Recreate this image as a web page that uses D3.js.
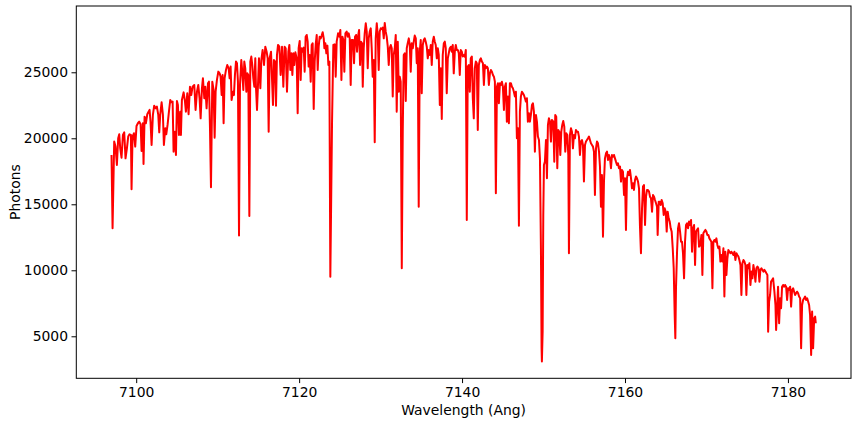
<!DOCTYPE html>
<html><head><meta charset="utf-8">
<script src="https://cdn.jsdelivr.net/npm/d3@7"></script>
<style>body{margin:0;background:#fff}</style>
</head><body><svg id="c" width="856" height="424"></svg>
<script>
const xTicks = [7100, 7120, 7140, 7160, 7180];
const yTicks = [5000, 10000, 15000, 20000, 25000];
const xLabel = "Wavelength (Ang)";
const yLabel = "Photons";
// [wavelength (Ang), photons]
const spectrum = [
[7096.97,18740],[7097.10,13180],[7097.30,19750],[7097.46,19370],[7097.63,17980],[7097.79,20000],[7097.92,20300],[7098.04,19240],[7098.20,18530],[7098.37,20250],
[7098.53,20450],[7098.69,18480],[7098.86,19240],[7099.02,20130],[7099.18,20300],[7099.35,20250],[7099.43,16140],[7099.55,20130],[7099.72,20380],[7099.88,19370],
[7100.04,20930],[7100.21,21140],[7100.37,21260],[7100.54,21060],[7100.66,19040],[7100.82,21140],[7100.90,18050],[7101.03,21640],[7101.19,21140],[7101.36,21820],
[7101.52,22020],[7101.64,22150],[7101.76,21260],[7101.89,19490],[7102.05,21770],[7102.21,22470],[7102.38,22270],[7102.54,22400],[7102.71,21770],[7102.83,20450],
[7102.95,21820],[7103.12,22730],[7103.28,21770],[7103.40,19490],[7103.57,20760],[7103.69,20300],[7103.85,21010],[7104.02,22020],[7104.18,22900],[7104.34,22730],
[7104.47,22780],[7104.59,18990],[7104.75,20500],[7104.88,18740],[7105.00,22830],[7105.12,22520],[7105.25,20250],[7105.41,22020],[7105.49,20250],
[7105.61,22900],[7105.82,23480],[7105.98,22830],[7106.10,22020],[7106.27,23410],[7106.43,21820],[7106.60,23910],[7106.76,23280],[7106.92,23910],[7107.13,24040],
[7107.29,22150],[7107.46,23530],[7107.62,24040],[7107.78,23030],[7107.91,21510],[7108.07,23790],[7108.19,24540],[7108.36,23030],[7108.48,23910],[7108.64,22270],
[7108.81,24170],[7108.93,24290],[7109.05,21010],[7109.18,16290],[7109.34,24290],[7109.50,23660],[7109.63,20050],[7109.75,23530],[7109.91,24420],[7110.08,25050],
[7110.24,24920],[7110.36,24670],[7110.49,23280],[7110.61,24800],[7110.73,21140],[7110.85,24540],[7111.02,25180],[7111.18,25550],[7111.35,25300],[7111.47,24540],
[7111.59,25430],[7111.71,22900],[7111.88,23530],[7112.00,23280],[7112.12,24800],[7112.25,25810],[7112.37,25680],[7112.49,24290],[7112.62,12630],[7112.74,24040],
[7112.90,25930],[7113.02,25050],[7113.15,23660],[7113.27,25810],[7113.39,25300],[7113.52,23530],[7113.64,24920],[7113.76,24800],[7113.89,14120],[7114.01,25810],
[7114.13,26190],[7114.25,25550],[7114.38,24540],[7114.50,23910],[7114.62,26060],
[7114.70,23910],[7114.83,22150],[7114.95,24040],[7115.07,26060],[7115.24,23790],[7115.36,25930],[7115.52,26690],[7115.69,25550],[7115.85,26940],[7116.01,26560],
[7116.14,26060],[7116.26,20500],[7116.38,26060],[7116.55,26560],[7116.67,24540],[7116.79,22520],[7116.91,25930],[7117.04,25810],[7117.16,22470],[7117.28,26310],
[7117.41,27070],[7117.57,26940],[7117.73,24800],[7117.90,26940],[7118.06,23910],[7118.22,26940],[7118.35,26820],[7118.51,23530],[7118.68,26560],[7118.80,27070],
[7118.92,25180],[7119.04,26440],[7119.17,24800],[7119.29,26440],[7119.41,25550],[7119.54,26510],[7119.70,26060],[7119.82,21890],[7119.94,26820],[7120.07,27370],
[7120.19,24420],[7120.31,26820],[7120.44,26560],[7120.56,26870],[7120.68,25050],[7120.80,27700],[7120.93,27830],[7121.05,27320],[7121.17,25430],[7121.30,26310],
[7121.42,24290],[7121.54,27070],[7121.66,27200],[7121.79,22220],[7121.91,25810],[7122.03,27070],[7122.16,27830],[7122.28,25180],[7122.40,26940],[7122.52,27700],
[7122.65,27570],[7122.77,27780],[7122.89,28030],[7123.02,27570],[7123.10,26820],[7123.22,27200],[7123.34,26440],[7123.47,27020],[7123.59,25550],[7123.71,25810],
[7123.83,9520],
[7124.04,21260],[7124.20,27070],[7124.37,27120],[7124.49,24670],[7124.61,27320],[7124.78,27950],[7124.94,27700],[7125.06,28210],[7125.19,24420],[7125.31,27700],
[7125.43,27450],[7125.55,25050],[7125.68,27950],[7125.84,28080],[7125.96,27700],[7126.09,27950],[7126.21,27570],[7126.33,24040],[7126.45,27450],[7126.62,27450],
[7126.74,25680],[7126.86,27700],[7126.99,27830],[7127.11,26560],[7127.23,27700],[7127.36,28210],[7127.48,25550],[7127.60,27320],[7127.72,27200],[7127.81,23910],
[7127.93,26820],[7128.05,27950],[7128.18,28710],[7128.30,28080],[7128.42,25300],[7128.54,27570],[7128.67,28080],[7128.79,28330],[7128.91,26820],[7129.03,24670],
[7129.16,25930],[7129.28,19700],[7129.40,27570],[7129.53,28710],[7129.65,27830],[7129.77,25180],[7129.89,28080],[7130.02,28330],[7130.14,28280],[7130.26,28380],
[7130.39,27570],[7130.51,28740],[7130.63,28080],[7130.75,27700],[7130.88,26940],[7131.00,25550],[7131.12,26820],[7131.25,27070],[7131.37,26820],[7131.49,23160],
[7131.61,26310],[7131.74,26820],[7131.86,27830],[7131.98,22020],[7132.11,27320],[7132.23,23530],[7132.35,24670],[7132.47,24290],[7132.60,10150],[7132.72,20500],
[7132.84,26310],[7132.97,26440],
[7133.09,22830],[7133.21,26820],[7133.33,27200],[7133.46,27570],[7133.58,27070],[7133.70,25050],[7133.82,27200],[7133.95,26820],[7134.07,27320],[7134.19,27780],
[7134.32,27570],[7134.44,25680],[7134.56,26820],[7134.68,14820],[7134.81,26560],[7134.93,27450],[7135.05,23410],[7135.18,27070],[7135.30,27450],[7135.42,27570],
[7135.54,27320],[7135.67,26940],[7135.79,26060],[7135.91,26690],[7136.04,26310],[7136.16,27070],[7136.28,25550],[7136.40,27320],[7136.53,27700],[7136.65,27320],
[7136.77,27070],[7136.90,26060],[7137.02,26820],[7137.14,26310],[7137.27,22520],[7137.39,25300],[7137.51,21460],[7137.63,26310],[7137.76,27200],[7137.88,27320],
[7138.00,26820],[7138.12,23410],[7138.25,26060],[7138.37,26440],[7138.49,26820],[7138.62,26940],[7138.74,26560],[7138.86,27070],[7138.98,24920],[7139.11,26560],
[7139.23,27070],[7139.35,26690],[7139.48,26690],[7139.60,26440],[7139.72,24800],[7139.84,26690],[7139.97,26560],[7140.09,26190],[7140.21,26310],[7140.34,26190],
[7140.46,26690],[7140.58,13810],[7140.70,25430],[7140.83,25550],[7140.95,23530],[7141.07,26060],[7141.20,26190],[7141.32,23030],[7141.44,21510],[7141.56,25300],
[7141.69,25810],[7141.81,25680],[7141.93,20630],
[7142.06,25550],[7142.19,25930],[7142.31,26060],[7142.43,25810],[7142.56,25680],[7142.68,24040],[7142.80,25550],[7142.92,25300],[7143.05,25430],[7143.17,25300],
[7143.29,24040],[7143.42,24920],[7143.54,25180],[7143.66,25050],[7143.79,24800],[7143.91,24670],[7144.03,24290],[7144.15,15830],[7144.28,23910],[7144.40,24170],
[7144.52,22650],[7144.65,24170],[7144.77,24040],[7144.89,24290],[7145.01,23910],[7145.14,22150],[7145.26,23910],[7145.38,24170],[7145.50,21260],[7145.63,23160],
[7145.75,21140],[7145.87,24170],[7146.00,24170],[7146.12,23910],[7146.24,23790],[7146.36,23530],[7146.49,23160],[7146.61,23530],[7146.73,20000],[7146.86,20760],
[7146.98,13380],[7147.10,22020],[7147.22,23160],[7147.35,23530],[7147.47,23410],[7147.59,23280],[7147.72,23030],[7147.84,22780],[7147.96,23030],[7148.08,21260],
[7148.21,21890],[7148.33,21260],[7148.45,21770],[7148.58,22520],[7148.70,22650],[7148.82,22020],[7148.94,18990],[7149.07,21770],[7149.19,21260],[7149.31,20130],
[7149.44,19870],[7149.56,18480],[7149.68,11670],[7149.76,4090],[7149.80,3100],[7149.89,5350],[7149.97,14190],[7150.05,17980],[7150.17,18230],[7150.30,19870],
[7150.42,16970],[7150.54,21010],[7150.66,21510],[7150.79,21260],[7150.91,19750],[7151.03,21390],
[7151.20,21260],[7151.32,18230],[7151.44,21770],[7151.56,21640],[7151.69,17730],[7151.81,20630],[7151.93,20500],[7152.06,18740],[7152.18,20500],[7152.30,21010],
[7152.42,21310],[7152.55,20880],[7152.67,18990],[7152.79,20380],[7152.92,20250],[7153.04,18740],[7153.12,11290],[7153.24,20250],[7153.37,20760],[7153.49,20500],
[7153.61,19240],[7153.73,20250],[7153.86,20000],[7153.98,20630],[7154.10,20500],[7154.23,20500],[7154.35,20130],[7154.47,18740],[7154.59,19750],[7154.72,19870],
[7154.84,19490],[7154.96,16720],[7155.09,19490],[7155.21,19750],[7155.33,19870],[7155.46,20000],[7155.58,20130],[7155.70,19870],[7155.82,19620],[7155.95,19490],
[7156.07,19370],[7156.19,18990],[7156.31,15710],[7156.44,19240],[7156.56,19750],[7156.68,19620],[7156.81,18990],[7156.93,17850],[7157.05,14820],[7157.17,17220],
[7157.30,12550],[7157.42,16720],[7157.54,18480],[7157.67,18860],[7157.79,18990],[7157.91,18360],[7158.03,18740],[7158.16,18480],[7158.28,17730],[7158.40,18740],
[7158.53,18610],[7158.65,18740],[7158.77,18480],[7158.89,18230],[7159.02,17980],[7159.14,18100],[7159.26,17730],[7159.39,17850],[7159.51,16720],[7159.63,17600],
[7159.75,17470],[7159.88,15710],[7160.00,16970],[7160.12,13060],
[7160.24,16970],[7160.37,17470],[7160.49,17220],[7160.61,17600],[7160.74,16970],[7160.86,16210],[7160.98,16590],[7161.10,16090],[7161.23,16840],[7161.35,17100],
[7161.47,16970],[7161.60,16720],[7161.72,16210],[7161.84,13310],[7161.96,11290],[7162.09,14700],[7162.21,16340],[7162.33,16460],[7162.46,13430],[7162.58,15580],
[7162.70,16090],[7162.82,16090],[7162.95,15960],[7163.07,15580],[7163.19,15450],[7163.32,14440],[7163.44,15710],[7163.56,15580],[7163.68,15330],[7163.81,15080],
[7163.93,14820],[7164.01,12680],[7164.14,15200],[7164.26,15200],[7164.38,14950],[7164.50,15330],[7164.63,15080],[7164.75,14190],[7164.87,14700],[7165.00,14440],
[7165.12,12930],[7165.24,14440],[7165.36,13940],[7165.49,13690],[7165.61,13180],[7165.73,12930],[7165.86,11670],[7165.98,10150],[7166.10,6620],[7166.18,4850],
[7166.26,8640],[7166.39,11410],[7166.51,13180],[7166.63,13560],[7166.76,12930],[7166.88,12170],[7167.00,12170],[7167.12,11290],[7167.25,9390],[7167.37,12170],
[7167.49,13430],[7167.62,13560],[7167.74,13180],[7167.86,13690],[7167.98,13430],[7168.11,13810],[7168.23,11410],[7168.35,13180],[7168.48,13430],[7168.60,10400],
[7168.72,12930],[7168.84,13060],[7168.97,13180],[7169.09,11790],
[7169.25,11920],[7169.38,12680],[7169.50,9650],[7169.62,12800],[7169.74,12930],[7169.87,13060],[7169.99,12930],[7170.11,12680],[7170.24,12680],[7170.36,12420],
[7170.48,12300],[7170.60,12170],[7170.73,8640],[7170.85,12170],[7170.97,12300],[7171.10,12170],[7171.22,12420],[7171.34,11920],[7171.46,11670],[7171.59,11790],
[7171.71,10660],[7171.83,11160],[7171.96,10660],[7172.08,11670],[7172.20,8010],[7172.32,11410],[7172.45,9650],[7172.57,10910],[7172.69,11540],[7172.82,11410],
[7172.94,11290],[7173.06,11410],[7173.18,11290],[7173.31,11160],[7173.43,11410],[7173.55,10780],[7173.68,11290],[7173.80,11160],[7173.92,11040],[7174.04,10780],
[7174.17,10400],[7174.29,8130],[7174.41,10530],[7174.54,10780],[7174.66,10660],[7174.78,10400],[7174.90,8130],[7175.03,10400],[7175.15,10150],[7175.27,10530],
[7175.40,8890],[7175.52,9900],[7175.64,9390],[7175.76,10400],[7175.89,9900],[7176.01,9140],[7176.13,10150],[7176.26,10280],[7176.38,10150],[7176.50,9140],
[7176.62,10030],[7176.75,10150],[7176.87,10030],[7176.99,9900],[7177.12,10030],[7177.24,9900],[7177.36,9770],[7177.48,9650],[7177.57,5350],[7177.69,7630],
[7177.81,8130],[7177.93,9140],[7178.06,9270],[7178.18,9390],
[7178.34,8380],[7178.47,7370],[7178.55,5480],[7178.67,7120],[7178.79,8760],[7178.92,5990],[7179.04,7880],[7179.16,7120],[7179.28,8760],[7179.41,8890],
[7179.53,8760],[7179.65,8890],[7179.78,8760],[7179.90,7750],[7180.02,8640],[7180.14,8510],[7180.27,8760],[7180.39,7250],[7180.51,8510],[7180.64,8640],
[7180.76,8380],[7180.88,8130],[7181.00,8260],[7181.13,8380],[7181.25,8260],[7181.37,8010],[7181.50,7880],[7181.62,4090],[7181.74,7370],[7181.86,7750],
[7181.99,7880],[7182.11,8010],[7182.23,7750],[7182.36,7880],[7182.48,7630],[7182.60,7370],[7182.72,6620],[7182.85,3590],[7182.97,6870],[7183.09,4090],
[7183.22,6360],[7183.34,6490],[7183.42,5990]
];

const L = 76.3, R = 851, T = 6, B = 378.3;
const FONT = "'DejaVu Sans', sans-serif";
const FS = 13.9;
const svg = d3.select("#c");

const xExt = d3.extent(spectrum, d => d[0]);
const yExt = d3.extent(spectrum, d => d[1]);
const xPad = (xExt[1] - xExt[0]) * 0.05;
const yPad = (yExt[1] - yExt[0]) * 0.05;
const x = d3.scaleLinear().domain([xExt[0] - xPad, xExt[1] + xPad]).range([L, R]);
const y = d3.scaleLinear().domain([yExt[0] - yPad, yExt[1] + yPad]).range([B, T]);

svg.append("defs").append("clipPath").attr("id", "clip")
  .append("rect").attr("x", L).attr("y", T).attr("width", R - L).attr("height", B - T);

svg.append("path")
  .datum(spectrum)
  .attr("clip-path", "url(#clip)")
  .attr("d", d3.line().x(d => x(d[0])).y(d => y(d[1])))
  .attr("fill", "none")
  .attr("stroke", "#ff0000")
  .attr("stroke-width", 2)
  .attr("stroke-linejoin", "round")
  .attr("stroke-linecap", "butt");

const xAxis = svg.append("g").attr("transform", `translate(0,${B})`)
  .call(d3.axisBottom(x).tickValues(xTicks).tickFormat(d3.format("d")).tickSize(4.8).tickPadding(3.8).tickSizeOuter(0));
const yAxis = svg.append("g").attr("transform", `translate(${L},0)`)
  .call(d3.axisLeft(y).tickValues(yTicks).tickFormat(d3.format("d")).tickSize(4.8).tickPadding(3.5).tickSizeOuter(0));
[xAxis, yAxis].forEach(g => {
  g.select(".domain").remove();
  g.selectAll("line").attr("stroke", "#000").attr("stroke-width", 1);
  g.selectAll("text").attr("font-family", FONT).attr("font-size", FS).attr("fill", "#000");
});

svg.append("rect").attr("x", L).attr("y", T).attr("width", R - L).attr("height", B - T)
  .attr("fill", "none").attr("stroke", "#000").attr("stroke-width", 1);

svg.append("text").attr("x", (L + R) / 2).attr("y", 415)
  .attr("text-anchor", "middle").attr("font-family", FONT).attr("font-size", FS).text(xLabel);
svg.append("text").attr("transform", `translate(19.5,${(T + B) / 2}) rotate(-90)`)
  .attr("text-anchor", "middle").attr("font-family", FONT).attr("font-size", FS).text(yLabel);
</script>
</body></html>
